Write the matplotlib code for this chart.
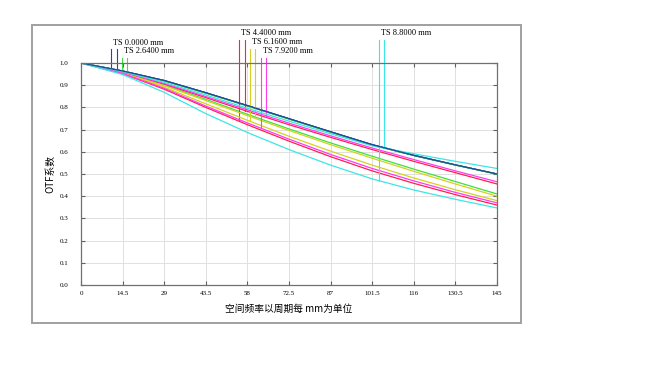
import numpy as np
import matplotlib
matplotlib.use("Agg")
import matplotlib.pyplot as plt
from matplotlib.patches import Rectangle

plt.rcParams["font.family"] = ["Liberation Serif", "Noto Sans CJK SC", "DejaVu Sans"]

# spatial frequency (cycles/mm) sample points
freq = [0, 14.5, 29, 43.5, 58, 72.5, 87, 101.5, 116, 130.5, 145]

# MTF curves, (field, T/S)
mtf_f1_t = [1.0, 0.964, 0.921, 0.866, 0.808, 0.749, 0.690, 0.632, 0.584, 0.541, 0.500]
mtf_f1_s = [1.0, 0.964, 0.921, 0.866, 0.808, 0.749, 0.690, 0.632, 0.584, 0.541, 0.500]
mtf_f2_t = [1.0, 0.957, 0.901, 0.836, 0.769, 0.703, 0.640, 0.580, 0.522, 0.466, 0.410]
mtf_f2_s = [1.0, 0.963, 0.919, 0.864, 0.806, 0.747, 0.688, 0.630, 0.583, 0.540, 0.499]
mtf_f3_t = [1.0, 0.952, 0.882, 0.800, 0.722, 0.648, 0.578, 0.514, 0.458, 0.407, 0.360]
mtf_f3_s = [1.0, 0.958, 0.905, 0.844, 0.782, 0.722, 0.665, 0.610, 0.557, 0.506, 0.455]
mtf_f4_t = [1.0, 0.955, 0.891, 0.816, 0.742, 0.670, 0.603, 0.540, 0.482, 0.429, 0.380]
mtf_f4_s = [1.0, 0.956, 0.898, 0.831, 0.763, 0.696, 0.632, 0.571, 0.512, 0.455, 0.400]
mtf_f5_t = [1.0, 0.953, 0.886, 0.806, 0.730, 0.657, 0.588, 0.525, 0.469, 0.417, 0.370]
mtf_f5_s = [1.0, 0.959, 0.908, 0.849, 0.789, 0.729, 0.672, 0.617, 0.565, 0.514, 0.465]
mtf_f6_t = [1.0, 0.948, 0.868, 0.772, 0.687, 0.610, 0.540, 0.478, 0.428, 0.386, 0.347]
mtf_f6_s = [1.0, 0.961, 0.913, 0.856, 0.796, 0.738, 0.681, 0.627, 0.591, 0.557, 0.525]

field_labels = ["TS 0.0000 mm", "TS 2.6400 mm", "TS 4.4000 mm",
                "TS 6.1600 mm", "TS 7.9200 mm", "TS 8.8000 mm"]
field_colors = ["#3030f0", "#3ee03e", "#ff1e50", "#d8d020", "#ff3cf0", "#3ce6e6"]
# legend marker positions (T, S) along the frequency axis
marker_x = [(10.6, 12.5), (14.4, 16.1), (55.2, 57.2), (59.0, 60.8), (62.7, 64.6), (103.8, 105.6)]
label_y = [1.092, 1.054, 1.134, 1.093, 1.054, 1.134]

curves = [(mtf_f1_t, mtf_f1_s), (mtf_f2_t, mtf_f2_s), (mtf_f3_t, mtf_f3_s),
          (mtf_f4_t, mtf_f4_s), (mtf_f5_t, mtf_f5_s), (mtf_f6_t, mtf_f6_s)]

fig = plt.figure(figsize=(6.67, 3.77), dpi=100)
ax = fig.add_axes([81 / 667, 1 - 285 / 377, 416 / 667, 222 / 377])

# outer frame
fig.add_artist(Rectangle((32 / 667, 1 - 323 / 377), 489 / 667, 298 / 377,
                         transform=fig.transFigure, fill=False,
                         edgecolor="#a0a0a0", linewidth=1.4))

for (t, s), col, (mx_t, mx_s), ly, lab in zip(curves, field_colors, marker_x, label_y, field_labels):
    ax.plot(freq, t, color=col, linewidth=0.9)
    ax.plot(freq, s, color=col, linewidth=0.9)
    top = ly - 0.03
    ax.plot([mx_t, mx_t], [np.interp(mx_t, freq, t), top], color=col,
            linewidth=0.8, clip_on=False)
    ax.plot([mx_s, mx_s], [np.interp(mx_s, freq, s), top], color=col,
            linewidth=0.8, clip_on=False)
    ax.text(mx_t + 0.6, ly, lab, fontsize=6, va="center", ha="left",
            clip_on=False, family="Liberation Serif")

# darker blend where the on-axis curves overlap
ax.plot(freq, mtf_f1_t, color="#1a4f8a", linewidth=0.9)

ax.set_xlim(0, 145)
ax.set_ylim(0, 1.0)
ax.set_xticks(freq)
ax.set_xticklabels(["0", "14.5", "29", "43.5", "58", "72.5", "87", "101.5",
                    "116", "130.5", "145"])
ax.set_yticks(np.arange(0, 1.01, 0.1))
ax.set_yticklabels([f"{v:.1f}" for v in np.arange(0, 1.01, 0.1)])
ax.tick_params(direction="in", length=3, width=0.8, color="#606060",
               labelsize=5, top=True, right=True, pad=4)
ax.tick_params(axis="y", pad=9)
ax.grid(True, color="#e0e0e0", linewidth=0.7)
for sp in ax.spines.values():
    sp.set_color("#707070")
    sp.set_linewidth(0.9)

ax.set_xlabel("空间频率以周期每 mm为单位", fontsize=7,
              family=["Noto Sans CJK SC", "DejaVu Sans"], labelpad=6)
ax.set_ylabel("OTF系数", fontsize=7,
              family=["Noto Sans CJK SC", "DejaVu Sans"], labelpad=3)

fig.savefig("out.png", dpi=100)
